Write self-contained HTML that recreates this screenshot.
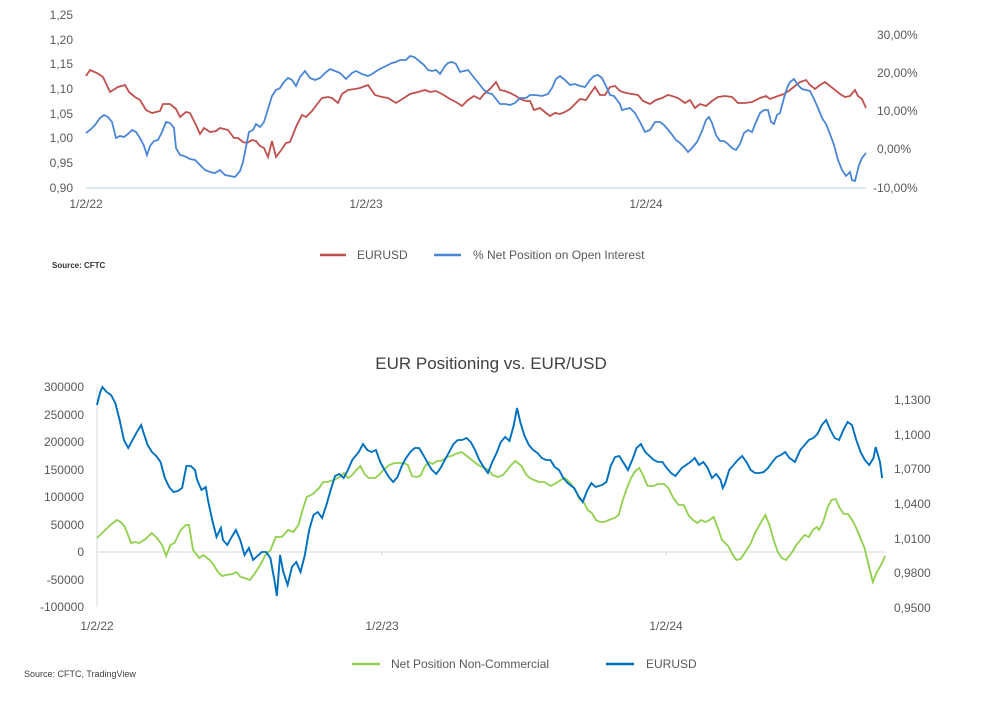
<!DOCTYPE html>
<html><head><meta charset="utf-8"><style>
html,body{margin:0;padding:0;background:#fff;}
svg{display:block;font-family:"Liberation Sans",sans-serif;}
.t{font-size:12px;fill:#595959;}
</style></head><body>
<svg width="982" height="709" viewBox="0 0 982 709" xmlns="http://www.w3.org/2000/svg">
<!-- TOP CHART -->
<g class="t" text-anchor="end">
<text x="73" y="19">1,25</text><text x="73" y="44">1,20</text><text x="73" y="68">1,15</text>
<text x="73" y="93">1,10</text><text x="73" y="118">1,05</text><text x="73" y="142">1,00</text>
<text x="73" y="167">0,95</text><text x="73" y="192">0,90</text>
</g>
<g class="t" text-anchor="start">
<text x="877" y="39">30,00%</text><text x="877" y="77">20,00%</text><text x="877" y="115">10,00%</text>
<text x="877" y="153">0,00%</text><text x="873" y="192">-10,00%</text>
</g>
<line x1="86" y1="188" x2="866" y2="188" stroke="#bdd7ee" stroke-width="1"/>
<g class="t" text-anchor="middle">
<text x="86" y="208">1/2/22</text><text x="366" y="208">1/2/23</text><text x="646" y="208">1/2/24</text>
</g>
<polyline fill="none" stroke="#c0504d" stroke-width="1.8" points="86,76 90,70 97,73 103,77 110,92 118,87 125,85 129,92 135,97 140,100 146,110 152,113 160,111 163,104 170,104 176,109 180,117 186,112 190,113 196,125 200,134 204,128 210,132 216,131 220,128 228,130 234,138 238,138 243,142 247,143 252,140 256,141 260,146 264,148 268,157 272,141 276,157 282,149 286,143 290,142 296,127 302,115 306,117 312,111 318,103 322,98 328,97 332,98 338,103 342,94 348,90 355,89 360,88 368,85 375,95 382,97 388,98 396,103 404,98 410,94 418,92 425,90 430,92 436,91 442,94 450,99 456,102 462,106 468,100 474,96 480,99 484,94 490,89 496,82 500,90 505,91 510,93 516,96 520,99 526,101 530,101 534,110 540,108 546,113 550,116 555,113 560,114 565,112 570,109 575,104 580,99 586,100 590,94 595,87 600,95 605,95 610,87 615,86 620,91 626,93 632,94 638,95 643,101 650,104 656,100 662,98 668,95 672,96 678,98 685,103 690,100 695,108 700,104 706,106 712,101 718,97 725,96 732,97 738,103 745,103 752,102 760,98 766,96 770,99 778,96 784,94 790,90 795,86 800,82 806,80 810,85 815,89 820,85 825,82 830,86 835,90 840,94 845,97 850,96 855,90 858,96 862,99 866,108"/>
<polyline fill="none" stroke="#4a86d8" stroke-width="1.8" points="86,133 90,130 95,125 100,118 104,115 108,117 112,122 116,138 120,136 124,137 128,134 132,130 136,132 140,138 144,146 147,155 150,146 154,141 158,140 162,132 166,122 170,123 174,128 176,148 180,155 184,156 190,159 195,160 200,165 205,170 210,172 215,173 220,170 225,175 230,176 235,177 240,171 243,162 246,147 249,132 253,130 256,124 260,127 264,122 268,109 272,96 276,90 280,88 284,82 288,78 292,80 296,86 300,77 305,71 310,78 315,80 320,78 325,73 330,69 335,71 340,73 346,79 352,73 356,71 362,74 368,76 372,74 378,70 382,68 386,66 392,63 396,62 400,60 406,60 410,56 414,57 418,60 424,65 428,70 432,71 436,70 440,74 445,66 448,63 452,62 456,64 460,72 464,71 468,70 472,75 476,80 480,85 484,90 488,93 492,94 496,99 500,104 505,104 510,105 515,103 520,98 526,98 530,95 535,95 542,96 548,94 552,88 556,79 560,76 565,80 570,85 575,84 580,86 585,87 590,80 594,76 598,75 602,78 606,86 610,95 614,96 620,104 622,110 626,109 630,108 635,113 640,122 645,132 650,130 655,122 660,122 664,125 670,132 676,140 680,143 684,147 688,152 692,148 697,142 702,131 706,120 709,117 712,123 716,135 720,141 724,141 728,144 732,148 736,150 740,144 744,133 748,130 752,132 756,122 760,113 764,110 768,110 771,122 774,124 777,115 780,113 784,98 787,88 790,82 794,79 798,85 802,89 806,90 810,91 814,99 818,108 822,118 826,124 830,134 834,145 838,160 842,170 846,176 850,172 852,180 855,181 859,165 862,158 866,153"/>
<line x1="320" y1="255" x2="346" y2="255" stroke="#c0504d" stroke-width="2.5"/>
<text x="357" y="259" class="t">EURUSD</text>
<line x1="434" y1="255" x2="461" y2="255" stroke="#4a86d8" stroke-width="2.5"/>
<text x="473" y="259" class="t">% Net Position on Open Interest</text>
<text x="52" y="268" style="font-size:8px;fill:#333;font-weight:bold">Source: CFTC</text>

<!-- BOTTOM CHART -->
<text x="491" y="369" text-anchor="middle" style="font-size:17px;fill:#404040">EUR Positioning vs. EUR/USD</text>
<g class="t" text-anchor="end">
<text x="84" y="391">300000</text><text x="84" y="419">250000</text><text x="84" y="446">200000</text>
<text x="84" y="474">150000</text><text x="84" y="501">100000</text><text x="84" y="529">50000</text>
<text x="84" y="556">0</text><text x="84" y="584">-50000</text><text x="84" y="611">-100000</text>
</g>
<g class="t" text-anchor="start">
<text x="894" y="404">1,1300</text><text x="894" y="439">1,1000</text><text x="894" y="473">1,0700</text>
<text x="894" y="508">1,0400</text><text x="894" y="543">1,0100</text><text x="894" y="577">0,9800</text>
<text x="894" y="612">0,9500</text>
</g>
<line x1="97" y1="387" x2="97" y2="607" stroke="#d9d9d9"/>
<line x1="97" y1="552" x2="886" y2="552" stroke="#d9d9d9"/>
<line x1="382" y1="552" x2="382" y2="556" stroke="#d9d9d9"/>
<line x1="666" y1="552" x2="666" y2="556" stroke="#d9d9d9"/>
<g class="t" text-anchor="middle">
<text x="97" y="630">1/2/22</text><text x="382" y="630">1/2/23</text><text x="666" y="630">1/2/24</text>
</g>
<g transform="translate(97,0) scale(1.033,1) translate(-97,0)">
<polyline fill="none" stroke="#92d050" stroke-width="1.8" points="97,538 103,532 110,525 116,520 120,522 124,527 130,543 134,542 138,543 144,539 150,533 155,538 160,545 164,556 168,545 172,543 178,530 183,525 186,525 190,550 196,558 200,555 206,560 210,565 214,572 218,576 222,575 228,574 232,572 236,577 240,578 245,580 250,573 255,565 260,555 265,550 270,537 276,537 282,530 287,532 292,525 296,510 300,497 306,494 312,488 316,482 320,482 326,480 330,478 333,476 336,473 340,478 344,475 348,470 352,466 356,474 360,478 366,478 370,475 374,470 380,465 385,463 390,463 394,463 398,465 402,476 406,477 410,476 414,467 418,462 422,464 426,461 430,461 436,457 440,456 444,454 450,452 455,456 460,460 466,465 470,467 476,470 480,475 485,477 490,475 494,470 498,465 502,461 508,466 512,474 516,478 520,480 525,482 530,482 536,486 540,484 546,480 550,478 555,483 560,490 564,499 568,502 572,510 576,513 580,520 584,522 588,522 595,519 598,518 602,515 606,500 610,488 614,478 618,471 622,468 626,476 630,486 636,486 640,484 646,484 650,488 655,498 660,505 665,505 670,516 674,520 678,523 682,520 686,522 690,520 694,517 698,528 702,540 708,546 712,554 716,560 720,559 724,553 730,543 734,533 740,522 744,515 748,525 752,540 756,552 760,558 764,560 770,552 774,545 778,540 782,535 786,537 790,530 794,527 796,530 800,522 804,508 808,500 812,499 816,508 820,514 824,514 828,520 832,528 836,538 840,548 844,565 848,582 852,572 856,565 860,556"/>
</g>
<g transform="translate(97,0) scale(1.077,1) translate(-97,0)">
<polyline fill="none" stroke="#0070c0" stroke-width="1.8" points="97,405 100,392 102,387 106,392 110,395 114,403 118,420 122,440 126,448 130,440 134,432 138,425 140,432 144,445 148,452 152,456 156,462 160,478 164,487 168,492 172,491 176,488 180,466 184,466 188,470 190,480 194,490 198,487 200,500 204,520 208,537 212,528 214,540 218,545 222,537 226,530 230,540 234,555 238,548 242,560 246,556 250,552 254,552 258,558 262,582 264,596 267,555 270,572 274,585 278,567 282,562 286,572 290,555 294,530 298,515 302,512 306,518 310,505 314,490 318,476 322,474 326,478 330,470 334,460 340,452 344,444 348,450 352,452 356,450 360,462 364,470 368,477 372,482 376,477 380,466 384,458 388,452 392,448 396,448 400,455 404,463 408,470 412,474 416,468 420,460 424,452 428,444 432,440 436,440 440,438 444,442 448,450 452,460 456,467 460,473 464,462 468,453 472,442 476,437 480,441 484,425 487,408 490,422 494,436 498,445 502,450 506,453 510,458 514,460 518,460 522,467 526,470 530,478 534,483 540,488 544,496 548,502 552,491 556,483 560,487 566,485 570,482 574,466 578,457 582,456 586,463 590,470 594,460 598,448 602,444 606,452 610,456 614,460 618,462 622,462 626,468 630,473 634,476 640,468 644,465 648,462 652,458 656,465 660,462 664,468 668,478 672,474 676,480 678,488 680,484 684,470 688,465 692,460 696,456 700,462 704,470 708,473 712,473 716,472 720,468 724,462 728,457 732,455 736,452 740,458 745,462 750,450 754,445 758,440 762,438 766,434 770,425 774,420 778,430 782,438 786,440 790,430 794,422 798,425 802,440 806,452 810,460 814,465 818,458 820,447 824,462 826,478"/>
</g>
<line x1="352" y1="664" x2="380" y2="664" stroke="#92d050" stroke-width="2.5"/>
<text x="391" y="668" class="t">Net Position Non-Commercial</text>
<line x1="606" y1="664" x2="634" y2="664" stroke="#0070c0" stroke-width="2.5"/>
<text x="646" y="668" class="t">EURUSD</text>
<text x="24" y="677" style="font-size:9px;fill:#404040">Source: CFTC, TradingView</text>
</svg>
</body></html>
